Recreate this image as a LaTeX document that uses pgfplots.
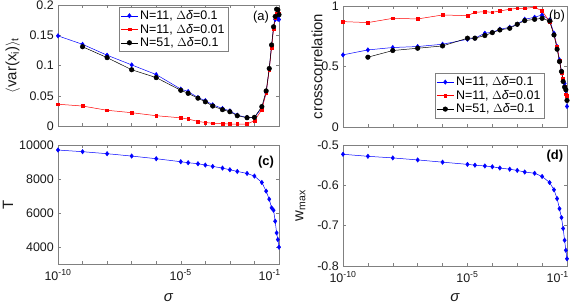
\documentclass[border=0pt]{standalone}
\usepackage{fontspec}
\setmainfont{Liberation Sans}
\usepackage{pgfplots}
\pgfplotsset{compat=1.18}
\definecolor{mblue}{rgb}{0,0,1}
\definecolor{mred}{rgb}{1,0,0}
\pgfplotsset{
 every axis/.append style={
  xmin=1e-10, xmax=1e-1, scale only axis,
  xtick={1e-10,1e-5},
  minor xtick={1e-9,1e-8,1e-7,1e-6,1e-4,1e-3,1e-2},
  extra x ticks={1e-1},
  tick align=inside, major tick length=3bp, minor tick length=3bp,
  axis line style={draw=black!50},
  tick style={black!50, line width=0.4pt},
  tick label style={font=\fontsize{12.5}{14}\selectfont, text=black!90, inner sep=1bp},
  xticklabel style={yshift=-4.5bp},
  yticklabel style={xshift=-3bp},
  label style={font=\fontsize{15}{17}\selectfont, text=black!90},
  scaled y ticks=false,
  /pgf/number format/assume math mode=true,
  legend style={font=\fontsize{12.5}{15}\selectfont, draw=black!50, fill=white, line width=0.4pt, inner sep=1.5pt, row sep=-1pt},
  legend cell align=left,
 },
 botx/.style={
  xticklabels={10\textsuperscript{-10},10\textsuperscript{-5}},
  extra x tick labels={10\textsuperscript{-1}},
  extra x tick style={xticklabel style={anchor=north east, xshift=3bp}},
 },
 topx/.style={xticklabels={}, extra x tick labels={}},
 plotb/.style={mblue, line width=0.5pt, mark=diamond*, mark size=2.2bp, mark options={solid, fill=mblue}},
 plotr/.style={mred, line width=0.5pt, mark=square*, mark size=1.4bp, mark options={solid, fill=mred}},
 plotk/.style={black, line width=0.5pt, mark=*, mark size=2.3bp, mark options={solid, fill=black}},
}
\begin{document}
\begin{tikzpicture}
\useasboundingbox (0,0) rectangle (575bp,-306bp);
% (a)
\begin{semilogxaxis}[topx, at={(58bp,-126bp)}, anchor=south west, width=221bp, height=121bp,
  ymin=0, ymax=0.2, ytick={0,0.05,0.1,0.15,0.2}, yticklabels={0,0.05,0.1,0.15,0.2},
  ylabel={$\langle$var(x\textsubscript{i})$\rangle$\textsubscript{t}},
  ylabel style={at={(axis description cs:-0.205,0.5)}, anchor=center},
  legend style={at={(axis description cs:0.276,0.985)}, anchor=north west}]
\addplot[plotb] coordinates {(1e-10,0.149)(1e-9,0.135)(1e-8,0.117)(1e-7,0.101)(1e-6,0.085)(1e-5,0.061)(2e-5,0.057)(5e-5,0.047)(1e-4,0.042)(2e-4,0.035)(5e-4,0.029)(1e-3,0.025)(2e-3,0.018)(5e-3,0.014)(1e-2,0.014)(2e-2,0.030)(3e-2,0.055)(4e-2,0.094)(5e-2,0.133)(6e-2,0.162)(7e-2,0.176)(8e-2,0.180)(9e-2,0.177)(1e-1,0.176)};
\addlegendentry{N=11, $\Delta$\textit{δ}=0.1}
\addplot[plotr] coordinates {(1e-10,0.036)(1e-9,0.033)(1e-8,0.026)(1e-7,0.022)(1e-6,0.017)(1e-5,0.0135)(2e-5,0.0115)(5e-5,0.0075)(1e-4,0.0058)(2e-4,0.0045)(5e-4,0.004)(1e-3,0.0033)(2e-3,0.0033)(5e-3,0.0033)(1e-2,0.0088)(2e-2,0.027)(3e-2,0.055)(4e-2,0.093)(5e-2,0.130)(6e-2,0.160)(7e-2,0.178)(8e-2,0.185)(9e-2,0.188)(1e-1,0.186)};
\addlegendentry{N=11, $\Delta$\textit{δ}=0.01}
\addplot[plotk] coordinates {(1e-9,0.131)(1e-8,0.113)(1e-7,0.093)(1e-6,0.080)(1e-5,0.059)(2e-5,0.054)(5e-5,0.046)(1e-4,0.040)(2e-4,0.033)(5e-4,0.027)(1e-3,0.0236)(2e-3,0.017)(5e-3,0.0137)(1e-2,0.0143)(2e-2,0.032)(3e-2,0.058)(4e-2,0.095)(5e-2,0.134)(6e-2,0.164)(7e-2,0.181)(8e-2,0.193)(9e-2,0.192)(1e-1,0.184)};
\addlegendentry{N=51, $\Delta$\textit{δ}=0.1}
\node[font=\fontsize{13}{15}\selectfont] at (axis description cs:0.919,0.90) {(a)};
\end{semilogxaxis}
% (b)
\begin{semilogxaxis}[topx, at={(343bp,-127bp)}, anchor=south west, width=224bp, height=121bp,
  ymin=0, ymax=1, ytick={0,0.5,1}, yticklabels={0,0.5,1},
  ylabel={crosscorrelation},
  ylabel style={at={(axis description cs:-0.116,0.5)}, anchor=center},
  legend style={at={(axis description cs:0.41,0.074)}, anchor=south west}]
\addplot[plotb] coordinates {(1e-10,0.596)(1e-9,0.637)(1e-8,0.657)(1e-7,0.665)(1e-6,0.684)(1e-5,0.725)(2e-5,0.734)(5e-5,0.775)(1e-4,0.783)(2e-4,0.808)(5e-4,0.824)(1e-3,0.849)(2e-3,0.89)(5e-3,0.907)(1e-2,0.926)(2e-2,0.885)(3e-2,0.775)(4e-2,0.665)(5e-2,0.555)(6e-2,0.46)(7e-2,0.385)(8e-2,0.36)(9e-2,0.30)(1e-1,0.17)};
\addlegendentry{N=11, $\Delta$\textit{δ}=0.1}
\addplot[plotr] coordinates {(1e-10,0.871)(1e-9,0.863)(1e-8,0.898)(1e-7,0.893)(1e-6,0.926)(1e-5,0.92)(2e-5,0.948)(5e-5,0.953)(1e-4,0.948)(2e-4,0.959)(5e-4,0.973)(1e-3,0.981)(2e-3,0.981)(5e-3,0.989)(1e-2,0.959)(2e-2,0.871)(3e-2,0.766)(4e-2,0.665)(5e-2,0.55)(6e-2,0.45)(7e-2,0.40)(8e-2,0.33)(9e-2,0.27)(1e-1,0.26)};
\addlegendentry{N=11, $\Delta$\textit{δ}=0.01}
\addplot[plotk] coordinates {(1e-9,0.577)(1e-8,0.632)(1e-7,0.651)(1e-6,0.67)(1e-5,0.734)(2e-5,0.734)(5e-5,0.756)(1e-4,0.78)(2e-4,0.802)(5e-4,0.816)(1e-3,0.849)(2e-3,0.879)(5e-3,0.89)(1e-2,0.898)(2e-2,0.876)(3e-2,0.761)(4e-2,0.643)(5e-2,0.541)(6e-2,0.459)(7e-2,0.376)(8e-2,0.33)(9e-2,0.308)(1e-1,0.22)};
\addlegendentry{N=51, $\Delta$\textit{δ}=0.1}
\node[font=\fontsize{13}{15}\selectfont] at (axis description cs:0.955,0.917) {(b)};
\end{semilogxaxis}
% (c)
\begin{semilogxaxis}[botx, at={(58bp,-264bp)}, anchor=south west, width=221bp, height=119bp,
  ymin=3000, ymax=10000, ytick={4000,6000,8000,10000}, yticklabels={4000,6000,8000,10000},
  ylabel={T}, xlabel={\textit{σ}},
  ylabel style={at={(axis description cs:-0.226,0.5)}, anchor=center},
  xlabel style={at={(axis description cs:0.5,-0.285)}, anchor=center}]
\addplot[plotb] coordinates {(1e-10,9705)(1e-9,9607)(1e-8,9489)(1e-7,9350)(1e-6,9194)(1e-5,9017)(2e-5,8958)(5e-5,8899)(1e-4,8820)(2e-4,8741)(5e-4,8643)(1e-3,8545)(2e-3,8446)(5e-3,8328)(1e-2,8171)(2e-2,7797)(3e-2,7286)(4e-2,6814)(5e-2,6303)(6e-2,6165)(7e-2,5516)(8e-2,4828)(9e-2,4435)(1e-1,3990)};
\node[font=\bfseries\fontsize{13}{15}\selectfont] at (axis description cs:0.941,0.857) {(c)};
\end{semilogxaxis}
% (d)
\begin{semilogxaxis}[botx, at={(343bp,-266bp)}, anchor=south west, width=224bp, height=121bp,
  ymin=-0.8, ymax=-0.5, ytick={-0.8,-0.7,-0.6,-0.5}, yticklabels={-0.8,-0.7,-0.6,-0.5},
  ylabel={w\textsubscript{max}}, xlabel={\textit{σ}},
  ylabel style={at={(axis description cs:-0.19,0.5)}, anchor=center},
  xlabel style={at={(axis description cs:0.5,-0.265)}, anchor=center}]
\addplot[plotb] coordinates {(1e-10,-0.523)(1e-9,-0.528)(1e-8,-0.532)(1e-7,-0.537)(1e-6,-0.5425)(1e-5,-0.548)(2e-5,-0.55)(5e-5,-0.552)(1e-4,-0.554)(2e-4,-0.557)(5e-4,-0.56)(1e-3,-0.563)(2e-3,-0.567)(5e-3,-0.57)(1e-2,-0.578)(2e-2,-0.593)(3e-2,-0.611)(4e-2,-0.633)(5e-2,-0.658)(6e-2,-0.68)(7e-2,-0.707)(8e-2,-0.736)(9e-2,-0.761)(1e-1,-0.782)};
\node[font=\bfseries\fontsize{13}{15}\selectfont] at (axis description cs:0.946,0.909) {(d)};
\end{semilogxaxis}
\end{tikzpicture}
\end{document}
